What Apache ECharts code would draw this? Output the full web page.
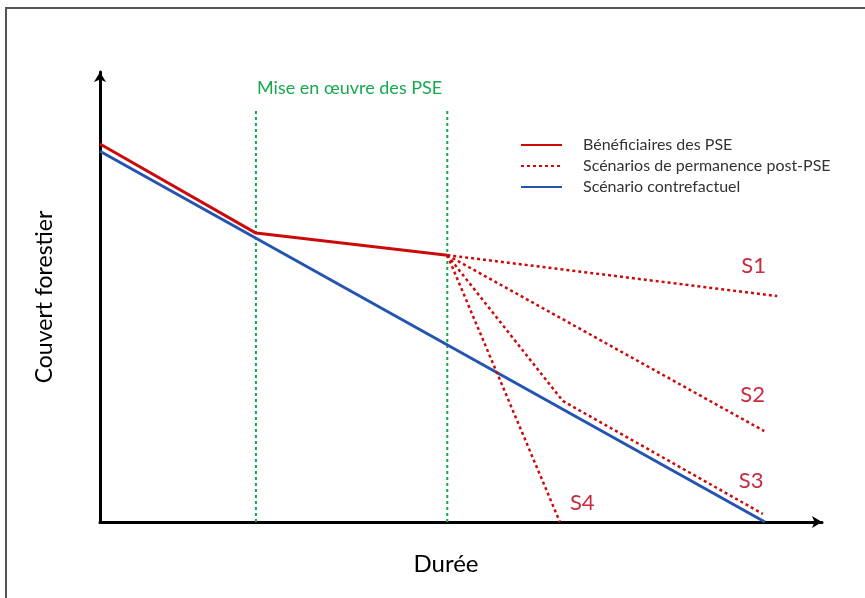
<!DOCTYPE html>
<html lang="fr">
<head>
    <meta charset="UTF-8">
    <title>Couvert forestier et PSE</title>
    <script type="text/javascript" src="https://cdn.jsdelivr.net/npm/echarts@6/dist/echarts.min.js"></script>
</head>
<body style="margin:0;background:#fff;">
    <div id="main" style="width: 865px; height: 598px;"></div>
    <script type="text/javascript">
        var pseBounds = [21.6, 48.1];   // début / fin de la mise en oeuvre des PSE
        var pseTop = 91.6;
        var beneficiaires = [[0, 84.0], [21.6, 64.2], [48.1, 59.3]];
        var contrefactuel = [[0, 82.4], [92.1, 0]];
        var scenarioNames = ['S1', 'S2', 'S3', 'S4'];
        var s1 = [[48.1, 59.3], [93.8, 50.2]];
        var s2 = [[48.1, 59.3], [92.0, 20.2]];
        var s3 = [[48.1, 59.3], [64.1, 26.9], [91.8, 1.8]];
        var s4 = [[48.1, 59.3], [63.7, 0]];
        var scenarios = [s1, s2, s3, s4];
        var labelOffsets = [[-36, -30], [-24, -36], [-24, -33], [10, -19]];

        var FONT = 'Lato';
        var RED = '#cc0a0a';
        var BLUE = '#2354b0';
        var GREEN = '#16a84e';
        var SCEN_LABEL = '#c92a3e';

        var myChart = echarts.init(document.getElementById('main'));

        var series = [];
        // lignes verticales (période des PSE)
        pseBounds.forEach(function (x, i) {
            series.push({
                name: 'pse' + i,
                type: 'line',
                data: [[x, 0], [x, pseTop]],
                symbol: 'none',
                lineStyle: { color: GREEN, width: 2, type: [3, 3] },
                z: 1
            });
        });
        series.push({
            name: 'Scénario contrefactuel',
            type: 'line',
            data: contrefactuel,
            symbol: 'none',
            color: BLUE,
            lineStyle: { color: BLUE, width: 3 },
            z: 3
        });
        scenarios.forEach(function (d, i) {
            series.push({
                name: 'Scénarios de permanence post-PSE',
                type: 'line',
                data: d,
                symbol: 'none',
                color: RED,
                lineStyle: { color: RED, width: 2.5, type: [3, 3] },
                endLabel: {
                    show: true,
                    formatter: scenarioNames[i],
                    color: SCEN_LABEL,
                    fontFamily: FONT,
                    fontSize: 22,
                    distance: 0,
                    offset: labelOffsets[i]
                },
                z: 4
            });
        });
        series.push({
            name: 'Bénéficiaires des PSE',
            type: 'line',
            data: beneficiaires,
            symbol: 'none',
            color: RED,
            lineStyle: { color: RED, width: 3 },
            z: 5
        });

        myChart.setOption({
            animation: false,
            grid: { left: 100, right: 43, top: 72, bottom: 76 },
            legend: {
                data: ['Bénéficiaires des PSE', 'Scénarios de permanence post-PSE', 'Scénario contrefactuel'],
                orient: 'vertical',
                left: 515,
                top: 132,
                itemWidth: 41,
                itemHeight: 16,
                itemGap: 5,
                itemStyle: { opacity: 0 },
                textStyle: { color: '#333', fontFamily: FONT, fontSize: 16, lineHeight: 16, padding: [0, 0, 0, 16] }
            },
            xAxis: {
                type: 'value',
                min: 0,
                max: 100,
                name: 'Durée',
                nameLocation: 'middle',
                nameGap: 30,
                nameTextStyle: { color: '#000', fontFamily: FONT, fontSize: 24, padding: [0, 30, 0, 0] },
                axisLine: { lineStyle: { color: '#000', width: 3 }, symbol: ['none', 'arrow'], symbolSize: [9, 10] },
                axisTick: { show: false },
                axisLabel: { show: false },
                splitLine: { show: false }
            },
            yAxis: {
                type: 'value',
                min: 0,
                max: 100,
                name: 'Couvert forestier',
                nameLocation: 'middle',
                nameGap: 44,
                nameTextStyle: { color: '#000', fontFamily: FONT, fontSize: 23 },
                axisLine: { lineStyle: { color: '#000', width: 3 }, symbol: ['none', 'arrow'], symbolSize: [9, 10] },
                axisTick: { show: false },
                axisLabel: { show: false },
                splitLine: { show: false }
            },
            graphic: [
                {
                    type: 'rect',
                    shape: { x: 6, y: 8, width: 900, height: 700 },
                    style: { fill: 'none', stroke: '#555', lineWidth: 2 },
                    silent: true
                },
                {
                    type: 'text',
                    left: 257,
                    top: 79,
                    style: { text: 'Mise en œuvre des PSE', fill: GREEN, font: '18px Lato' }
                }
            ],
            series: series
        });
    </script>
</body>
</html>
